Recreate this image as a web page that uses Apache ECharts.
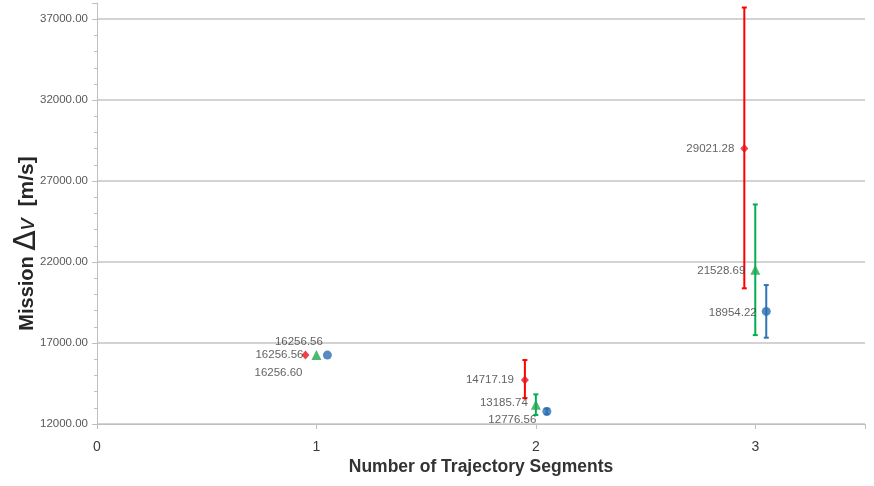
<!DOCTYPE html>
<html>
<head>
<meta charset="utf-8">
<script src="https://cdn.jsdelivr.net/npm/echarts@6/dist/echarts.min.js"></script>
<style>
  html, body { margin: 0; padding: 0; background: #ffffff; }
  #chart { width: 874px; height: 486px; }
</style>
</head>
<body>
<div id="chart"></div>
<script>
// Number of trajectory segments on the horizontal axis
const segments = [1, 2, 3];

// Mission delta-v per configuration (m/s): mean with lower / upper bounds
const redMean   = [16256.60, 14717.19, 29021.28];
const redLow    = [16256.60, 13600, 20380];
const redHigh   = [16256.60, 15950, 37720];

const greenMean = [16256.56, 13185.74, 21528.69];
const greenLow  = [16256.56, 12560, 17490];
const greenHigh = [16256.56, 13830, 25560];

const blueMean  = [16256.56, 12776.56, 18954.22];
const blueLow   = [16256.56, 12600, 17330];
const blueHigh  = [16256.56, 12950, 20580];

// Axis ticks
const yTicks = [12000, 17000, 22000, 27000, 32000, 37000];
const xTicks = [0, 1, 2, 3];

const labelFont = 'Liberation Sans, Arial, sans-serif';
const txtColor = '#3a3a3a';

// Series styling: horizontal dodge, colours, markers and label placement
const groups = [
  { name: 'A', mean: redMean, low: redLow, high: redHigh, dodge: -0.05,
    color: '#ff0000', marker: '#e8141c', symbol: 'diamond', size: [8, 9],
    labelOffsets: [[1, 18], [-7, 0], [-6, 0]] },
  { name: 'B', mean: greenMean, low: greenLow, high: greenHigh, dodge: 0,
    color: '#00b050', marker: '#1fa84f', symbol: 'triangle', size: [10, 10],
    labelOffsets: [[-8, 0], [-3, -2], [-5, 1]] },
  { name: 'C', mean: blueMean, low: blueLow, high: blueHigh, dodge: 0.05,
    color: '#2e75b6', marker: '#2a6db3', symbol: 'circle', size: [9, 9],
    labelOffsets: [[0, -13], [-6, 8], [-5, 1]] }
];

function errorBarRenderer(color) {
  return function (params, api) {
    const x = api.value(0);
    const top = api.coord([x, api.value(2)]);
    const bot = api.coord([x, api.value(1)]);
    const cap = 2.5;
    const style = { stroke: color, lineWidth: 2 };
    return {
      type: 'group',
      children: [
        { type: 'line', shape: { x1: top[0], y1: top[1], x2: bot[0], y2: bot[1] }, style },
        { type: 'line', shape: { x1: top[0] - cap, y1: top[1], x2: top[0] + cap, y2: top[1] }, style },
        { type: 'line', shape: { x1: bot[0] - cap, y1: bot[1], x2: bot[0] + cap, y2: bot[1] }, style }
      ]
    };
  };
}

const series = [];
groups.forEach(g => {
  const bars = segments
    .map((s, i) => [s + g.dodge, g.low[i], g.high[i]])
    .filter(d => d[2] > d[1]);
  series.push({
    type: 'custom',
    name: g.name + ' range',
    renderItem: errorBarRenderer(g.color),
    encode: { x: 0, y: [1, 2] },
    data: bars,
    z: 2,
    silent: true
  });
});
groups.forEach(g => {
  series.push({
    type: 'scatter',
    name: g.name,
    symbol: g.symbol,
    symbolSize: g.size,
    itemStyle: { color: g.marker },
    z: 3,
    data: segments.map((s, i) => ({
      value: [s + g.dodge, g.mean[i]],
      label: {
        show: true,
        position: 'left',
        distance: 0,
        offset: g.labelOffsets[i],
        formatter: () => g.mean[i].toFixed(2),
        color: txtColor,
        fontSize: 11.5,
        fontFamily: labelFont
      }
    }))
  });
});

// Major gridlines at the labelled ticks only; the axis top stays clear
const gridColors = yTicks.map(() => '#c4c4c4').concat(['rgba(0,0,0,0)']);

const chart = echarts.init(document.getElementById('chart'), null, { renderer: 'canvas' });
chart.setOption({
  animation: false,
  backgroundColor: '#ffffff',
  grid: { left: 97, right: 9, top: 3, bottom: 62, containLabel: false, outerBoundsMode: 'none' },
  xAxis: {
    type: 'value',
    min: 0,
    max: 3.5,
    interval: 1,
    name: 'Number of Trajectory Segments',
    nameLocation: 'middle',
    nameGap: 34,
    nameMoveOverlap: false,
    nameTextStyle: { fontSize: 17.5, fontWeight: 'bold', color: '#333333', fontFamily: labelFont },
    axisLine: { show: true, lineStyle: { color: '#bfbfbf', width: 1 } },
    axisTick: { show: true, length: 5, lineStyle: { color: '#bfbfbf' } },
    axisLabel: {
      fontSize: 14, color: txtColor, fontFamily: labelFont, margin: 16,
      formatter: v => (xTicks.includes(v) ? String(v) : '')
    },
    splitLine: { show: false }
  },
  yAxis: {
    type: 'value',
    min: 12000,
    max: 38000,
    interval: 5000,
    name: '{m|Mission }{d|Δ}{v|v}{u|  [m/s]}{pad|}',
    nameLocation: 'middle',
    nameGap: 55,
    nameMoveOverlap: false,
    nameRotate: 90,
    nameTextStyle: {
      color: '#262626',
      fontFamily: labelFont,
      rich: {
        m: { fontSize: 20, fontWeight: 'bold', fontFamily: labelFont, color: '#262626' },
        d: { fontSize: 30, fontFamily: 'DejaVu Sans, sans-serif', color: '#262626' },
        v: { fontSize: 24, fontStyle: 'italic', fontFamily: labelFont, color: '#262626' },
        u: { fontSize: 21, fontWeight: 'bold', fontFamily: labelFont, color: '#262626' },
        pad: { width: 60 }
      }
    },
    axisLine: { show: true, lineStyle: { color: '#bfbfbf', width: 1 } },
    axisTick: { show: true, length: 5, lineStyle: { color: '#bfbfbf' } },
    minorTick: { show: true, splitNumber: 5, length: 3, lineStyle: { color: '#bfbfbf' } },
    axisLabel: {
      fontSize: 11.5, color: '#595959', fontFamily: labelFont, margin: 9,
      formatter: v => (yTicks.includes(v) ? v.toFixed(2) : '')
    },
    splitLine: {
      show: true,
      lineStyle: { color: gridColors, width: 1.5 }
    }
  },
  series
});
</script>
</body>
</html>
